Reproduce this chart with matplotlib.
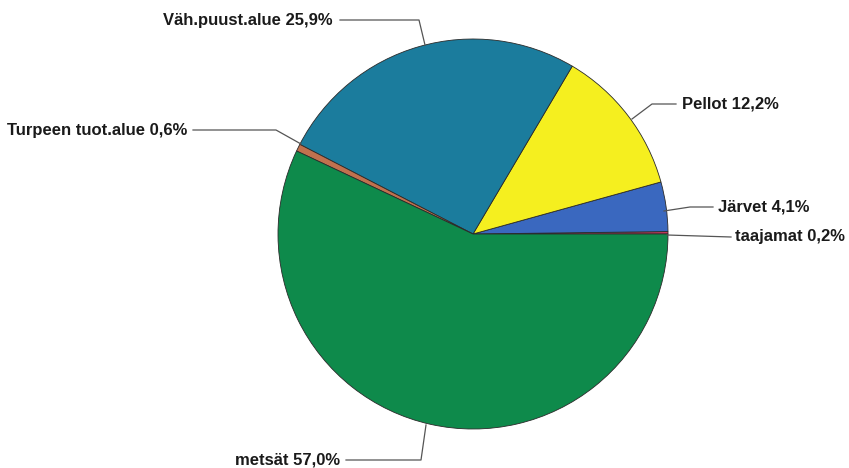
import matplotlib.pyplot as plt

# land use shares, counterclockwise from 3 o'clock
labels = ["taajamat 0,2%", "Järvet 4,1%", "Pellot 12,2%", "Väh.puust.alue 25,9%",
          "Turpeen tuot.alue 0,6%", "metsät 57,0%"]
shares = [0.2, 4.1, 12.2, 25.9, 0.6, 57.0]
colors = ["#c23a5a", "#3a68bf", "#f5ef1f", "#1b7c9d", "#c0714e", "#0e8a4b"]

# label text anchor (pixels, image coords) and leader line points
text_pos = [(735, 237), (718, 207), (682, 104), (333, 20), (187, 130), (340, 460)]
text_ha = ["left", "left", "left", "right", "right", "right"]
leaders = [
    [(667, 235), (731, 237)],
    [(664, 211), (690, 207), (713, 207)],
    [(632, 119), (652, 104), (676, 104)],
    [(425, 45), (419, 20), (340, 20)],
    [(301, 144), (276, 130), (193, 130)],
    [(426, 425), (421, 460), (346, 460)],
]

W, H = 849, 468
fig = plt.figure(figsize=(W / 100, H / 100), dpi=100)
ax = fig.add_axes([0, 0, 1, 1])

ax.pie(shares, colors=colors, center=(473, H - 234), radius=195, startangle=0,
       counterclock=True, frame=True,
       wedgeprops=dict(edgecolor="#2a2a2a", linewidth=0.6))
ax.set_xlim(0, W)
ax.set_ylim(0, H)
ax.set_aspect("equal")
ax.axis("off")

for lab, (x, y), ha, pts in zip(labels, text_pos, text_ha, leaders):
    ax.text(x, H - y, lab, ha=ha, va="center", fontsize=12, fontweight="bold",
            family="Liberation Sans", color="#1a1a1a")
    ax.plot([p[0] for p in pts], [H - p[1] for p in pts], color="#555555", lw=0.9)

fig.savefig("out.png", dpi=100)
